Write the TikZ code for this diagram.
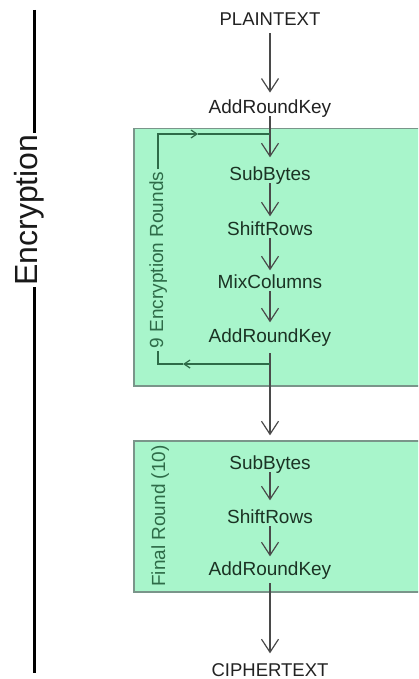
\documentclass[tikz,border=0pt]{standalone}
\usepackage{fontspec}
\setmainfont{Liberation Sans}
\usetikzlibrary{arrows.meta}
\definecolor{boxfill}{HTML}{A8F5CB}
\definecolor{boxedge}{HTML}{7A958A}
\definecolor{flow}{HTML}{4A4A4A}
\definecolor{loopc}{HTML}{2E6B48}
\definecolor{intext}{HTML}{1B3324}
\definecolor{outtext}{HTML}{222222}
\begin{document}
\begin{tikzpicture}[x=1pt,y=-1pt,
  lbl/.style={font=\fontsize{19}{19}\selectfont, text=intext, inner sep=0pt,
    text height=13.5pt, text depth=3pt, anchor=base},
  olbl/.style={lbl, text=outtext, font=\fontsize{18.5}{18.5}\selectfont},
  rotlbl/.style={font=\fontsize{19}{19}\selectfont, text=loopc, rotate=90,
    anchor=base, inner xsep=2.5pt, inner ysep=0pt},
  roundbox/.style={draw=boxedge, fill=boxfill, line width=1.5pt, anchor=north west,
    inner sep=0pt},
  flowarr/.style={draw=flow, line width=1.2pt,
    -{Straight Barb[length=13pt,width=17pt,line width=1.2pt]}, shorten >=7pt},
  flowline/.style={draw=flow, line width=1.2pt},
  loopline/.style={draw=loopc, line width=1.4pt},
  looparr/.style={loopline, -{Straight Barb[length=6pt,width=8pt,line width=1.2pt]}},
  encline/.style={draw=black, line width=3.5pt}
]
\useasboundingbox (0,0) rectangle (418,679);
\clip (0,0) rectangle (418,679);
\fill[white] (0,0) rectangle (418,679);

% round boxes
\node[roundbox, minimum width=300pt, minimum height=257pt] (box1) at (133,128) {};
\node[roundbox, minimum width=300pt, minimum height=151pt] (box2) at (133,440) {};

% flow nodes
\node[olbl] (pt)   at (270,26)    {PLAINTEXT};
\node[olbl, font=\fontsize{19}{19}\selectfont] (ark0) at (270,113.3) {AddRoundKey};
\node[lbl] (sb1)  at (270,180) {SubBytes};
\node[lbl] (sr1)  at (270,235) {ShiftRows};
\node[lbl] (mc)   at (270,288) {MixColumns};
\node[lbl] (ark1) at (270,342) {AddRoundKey};
\node[lbl] (sb2)  at (270,469) {SubBytes};
\node[lbl] (sr2)  at (270,523) {ShiftRows};
\node[lbl] (ark2) at (270,575) {AddRoundKey};
\node[olbl] (ct)  at (270,676) {CIPHERTEXT};

% flow arrows
\draw[flowarr, shorten <=4pt] (pt.south) -- (ark0.north);
\draw[flowarr, shorten >=9pt] (ark0.south) -- (sb1.north);
\draw[flowarr, shorten >=5pt] (sb1.south) -- (sr1.north);
\draw[flowarr, shorten >=4pt] (sr1.south) -- (mc.north);
\draw[flowarr, shorten >=6pt] (mc.south) -- (ark1.north);
\draw[flowarr, shorten <=8pt, shorten >=20pt] (ark1.south) -- (sb2.north);
\draw[flowarr, shorten >=9pt] (sb2.south) -- (sr2.north);
\draw[flowarr, shorten >=5pt] (sr2.south) -- (ark2.north);
\draw[flowarr, shorten <=5pt, shorten >=9pt] (ark2.south) -- (ct.north);

% loop of the 9 rounds
\coordinate (lb)  at (270,364);
\coordinate (lm1) at (183,364);
\coordinate (lbl) at (158,364);
\coordinate (ltl) at (158,134);
\coordinate (lm2) at (198,134);
\coordinate (ltr) at (270,134);
\node[rotlbl] (loopt) at (163,260) {9 Encryption Rounds};
\draw[looparr] (lb) -- (lm1);
\draw[loopline] (lm1) -- (lbl) -- (lbl |- loopt.west);
\draw[looparr] (ltl |- loopt.east) -- (ltl) -- (lm2);
\draw[loopline] (lm2) -- (ltr);

% final round label
\node[rotlbl] (fr) at (165,516) {Final Round (10)};

% Encryption bar
\coordinate (etop) at (34.5,10);
\coordinate (ebot) at (34.5,673);
\node[rotlbl, text=black!90, font=\fontsize{32}{32}\selectfont, inner xsep=1pt] (enc) at (37,210) {Encryption};
\draw[encline] (etop) -- (etop |- enc.east);
\draw[encline] (ebot |- enc.west) -- (ebot);
\end{tikzpicture}
\end{document}
